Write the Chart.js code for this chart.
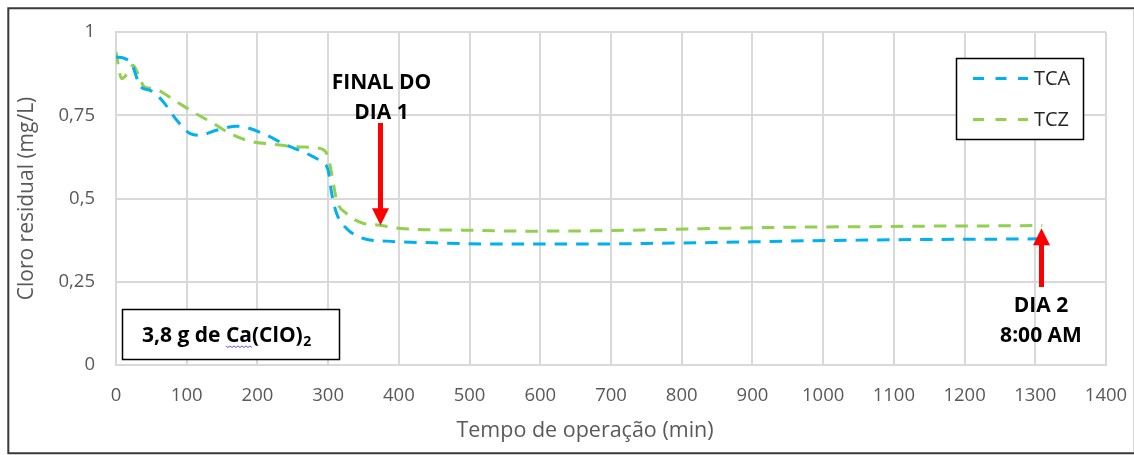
<!DOCTYPE html>
<html>
<head>
<meta charset="utf-8">
<script src="https://cdn.jsdelivr.net/npm/chart.js@4"></script>
<style>
  html, body { margin: 0; padding: 0; background: #fff; }
  #wrap { width: 1134px; height: 455px; }
</style>
</head>
<body>
<div id="wrap"><canvas id="c" width="1134" height="455"></canvas></div>
<script>
// Residual chlorine over operating time, two filter columns
const timeTCA = [0, 13, 22, 35, 48, 65, 86, 105, 119, 142, 171, 185, 213, 241, 270, 293, 300, 305, 312, 326, 350, 383, 450, 550, 650, 750, 850, 950, 1050, 1150, 1250, 1310];
const valuesTCA = [0.925, 0.92, 0.905, 0.835, 0.825, 0.795, 0.735, 0.695, 0.69, 0.705, 0.717, 0.713, 0.69, 0.66, 0.635, 0.605, 0.585, 0.515, 0.455, 0.41, 0.38, 0.372, 0.367, 0.363, 0.363, 0.365, 0.368, 0.372, 0.375, 0.377, 0.378, 0.379];

const timeTCZ = [0, 8, 16, 24, 33, 40, 53, 86, 109, 138, 166, 194, 222, 260, 289, 300, 305, 312, 326, 350, 373, 402, 491, 585, 680, 774, 868, 963, 1038, 1150, 1250, 1310];
const valuesTCZ = [0.94, 0.86, 0.875, 0.9, 0.865, 0.835, 0.83, 0.79, 0.76, 0.725, 0.69, 0.67, 0.663, 0.655, 0.65, 0.625, 0.575, 0.495, 0.455, 0.425, 0.42, 0.41, 0.405, 0.402, 0.403, 0.407, 0.411, 0.414, 0.415, 0.417, 0.418, 0.419];

const seriesNames = ['TCA', 'TCZ'];
const seriesColors = ['#00B0F0', '#92D050'];

const yTickLabels = ['0', '0,25', '0,5', '0,75', '1'];
const xTitle = 'Tempo de operação (min)';
const yTitle = 'Cloro residual (mg/L)';

// event markers: time, value at the arrow tip, and the caption lines
const markerTimes = [373, 1308];
const markerTips = [0.42, 0.411];
const markerCaptions = [['FINAL DO', 'DIA 1'], ['DIA 2', '8:00 AM']];

const doseText = '3,8 g de Ca(ClO)';
const doseSub = '2';

const FONT = '"Open Sans", "DejaVu Sans", sans-serif';

function toPoints(xs, ys) { return xs.map((t, i) => ({ x: t, y: ys[i] })); }

const decor = {
  id: 'decor',
  beforeDraw(chart) {
    const { ctx, width, height } = chart;
    ctx.save();
    ctx.fillStyle = '#ffffff';
    ctx.fillRect(0, 0, width, height);
    ctx.restore();
  },
  afterDraw(chart) {
    const { ctx, scales: { x, y } } = chart;
    ctx.save();

    // outer frame
    ctx.strokeStyle = '#3a3a3a';
    ctx.lineWidth = 2;
    ctx.beginPath();
    ctx.moveTo(8.3, 454);
    ctx.lineTo(8.3, 8.3);
    ctx.lineTo(1134, 8.3);
    ctx.moveTo(8.3, 453.3);
    ctx.lineTo(1134, 453.3);
    ctx.stroke();
    ctx.strokeStyle = '#d6d6d6';
    ctx.lineWidth = 1;
    ctx.beginPath();
    ctx.moveTo(1133.5, 9);
    ctx.lineTo(1133.5, 452);
    ctx.stroke();

    // x axis title
    ctx.fillStyle = '#595959';
    ctx.font = '21.5px ' + FONT;
    ctx.textAlign = 'center';
    ctx.textBaseline = 'alphabetic';
    ctx.fillText(xTitle, 585, 436.5);

    // legend box
    ctx.fillStyle = '#ffffff';
    ctx.fillRect(956.5, 58.5, 127, 81);
    ctx.strokeStyle = '#000000';
    ctx.lineWidth = 1.5;
    ctx.strokeRect(956.5, 58.5, 127, 81);
    chart.data.datasets.forEach((ds, i) => {
      const ly = 78.5 + i * 41;
      ctx.strokeStyle = ds.borderColor;
      ctx.lineWidth = 3;
      ctx.setLineDash([11, 11.5]);
      ctx.beginPath();
      ctx.moveTo(973, ly);
      ctx.lineTo(1028, ly);
      ctx.stroke();
      ctx.setLineDash([]);
      ctx.fillStyle = '#262626';
      ctx.font = '20px ' + FONT;
      ctx.textAlign = 'left';
      ctx.textBaseline = 'middle';
      ctx.fillText(ds.label, 1034, ly + 1);
    });

    // event arrows and captions
    markerTimes.forEach((t, i) => {
      const px = Math.round(x.getPixelForValue(t)) + 0.5;
      const tip = y.getPixelForValue(markerTips[i]);
      ctx.fillStyle = '#FF0000';
      ctx.strokeStyle = '#FF0000';
      ctx.lineWidth = 5;
      if (i === 0) {
        // pointing down
        ctx.beginPath();
        ctx.moveTo(px, 123);
        ctx.lineTo(px, tip - 14);
        ctx.stroke();
        ctx.beginPath();
        ctx.moveTo(px - 8.5, tip - 17);
        ctx.lineTo(px + 8.5, tip - 17);
        ctx.lineTo(px, tip);
        ctx.closePath();
        ctx.fill();
      } else {
        // pointing up
        ctx.beginPath();
        ctx.moveTo(px, 287);
        ctx.lineTo(px, tip + 14);
        ctx.stroke();
        ctx.beginPath();
        ctx.moveTo(px - 8.5, tip + 17);
        ctx.lineTo(px + 8.5, tip + 17);
        ctx.lineTo(px, tip);
        ctx.closePath();
        ctx.fill();
      }
      ctx.fillStyle = '#000000';
      ctx.font = 'bold 21px ' + FONT;
      ctx.textAlign = 'center';
      ctx.textBaseline = 'alphabetic';
      const lines = markerCaptions[i];
      const base = i === 0 ? 88.5 : 311.7;
      lines.forEach((s, k) => ctx.fillText(s, px + (i === 0 ? 1 : -0.5), base + k * 30.5));
    });

    // dose box
    ctx.fillStyle = '#ffffff';
    ctx.fillRect(122.5, 309.5, 217, 50);
    ctx.strokeStyle = '#000000';
    ctx.lineWidth = 1.5;
    ctx.strokeRect(122.5, 309.5, 217, 50);
    ctx.fillStyle = '#000000';
    ctx.font = 'bold 21px ' + FONT;
    ctx.textAlign = 'left';
    ctx.textBaseline = 'alphabetic';
    ctx.fillText(doseText, 142, 341.7);
    const w = ctx.measureText(doseText).width;
    const wCa = ctx.measureText('3,8 g de ').width;
    const wCa2 = ctx.measureText('3,8 g de Ca').width;
    ctx.font = 'bold 14px ' + FONT;
    ctx.fillText(doseSub, 142 + w + 0.5, 345.5);
    // spell-check squiggle under "Ca"
    ctx.strokeStyle = '#5b5bf0';
    ctx.lineWidth = 1;
    ctx.beginPath();
    for (let sx = 142 + wCa, k = 0; sx <= 142 + wCa2; sx += 2, k++) {
      const sy = 346.5 + (k % 2 ? 1 : -0.5);
      if (k === 0) ctx.moveTo(sx, sy); else ctx.lineTo(sx, sy);
    }
    ctx.stroke();

    ctx.restore();
  }
};

const gridColor = '#d9d9d9';

new Chart(document.getElementById('c'), {
  type: 'line',
  data: {
    datasets: [
      {
        label: seriesNames[0],
        data: toPoints(timeTCA, valuesTCA),
        borderColor: seriesColors[0],
        backgroundColor: seriesColors[0],
        borderWidth: 3,
        borderDash: [12.5, 9],
        pointRadius: 0,
        cubicInterpolationMode: 'monotone',
        fill: false
      },
      {
        label: seriesNames[1],
        data: toPoints(timeTCZ, valuesTCZ),
        borderColor: seriesColors[1],
        backgroundColor: seriesColors[1],
        borderWidth: 3,
        borderDash: [12.5, 9],
        pointRadius: 0,
        cubicInterpolationMode: 'monotone',
        fill: false
      }
    ]
  },
  options: {
    responsive: false,
    animation: false,
    devicePixelRatio: 1,
    layout: { padding: { left: 0, top: 32, right: 28, bottom: 0 } },
    plugins: {
      legend: { display: false },
      tooltip: { enabled: false }
    },
    scales: {
      x: {
        type: 'linear',
        min: 0,
        max: 1400,
        ticks: {
          stepSize: 100,
          autoSkip: false,
          maxRotation: 0,
          padding: 20,
          color: '#595959',
          font: { family: FONT, size: 18.5 },
          callback: (v) => String(v)
        },
        grid: { color: gridColor, lineWidth: 2, drawTicks: false },
        border: { color: gridColor, width: 2 },
        afterFit: (s) => { s.height = 90; s.paddingLeft = 0; s.paddingRight = 0; }
      },
      y: {
        min: 0,
        max: 1,
        ticks: {
          stepSize: 0.25,
          padding: 21,
          color: '#595959',
          font: { family: FONT, size: 18.5 },
          callback: (v) => yTickLabels[Math.round(v / 0.25)]
        },
        title: {
          display: true,
          text: yTitle,
          color: '#595959',
          font: { family: FONT, size: 21 },
          padding: { top: 14, bottom: 0 }
        },
        grid: { color: gridColor, lineWidth: 2, drawTicks: false },
        border: { color: gridColor, width: 2 },
        afterFit: (s) => { s.width = 116; s.paddingTop = 0; s.paddingBottom = 0; }
      }
    }
  },
  plugins: [decor]
});
</script>
</body>
</html>
